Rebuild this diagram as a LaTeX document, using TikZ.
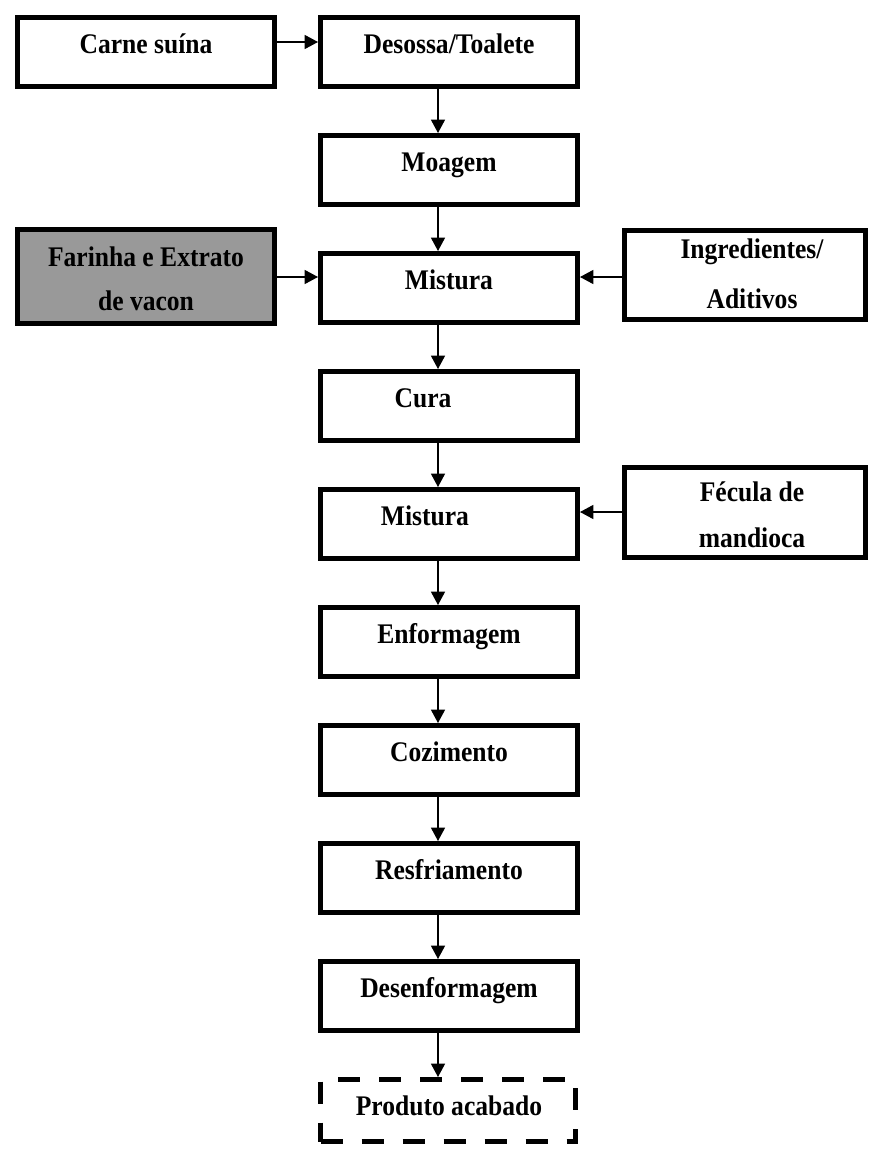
\documentclass[tikz,border=0pt]{standalone}
\usepackage{fontspec}
\setmainfont{Liberation Serif}[FakeStretch=0.9]
\usetikzlibrary{arrows.meta}

\tikzset{every picture/.style={line width=0.75pt}}
\tikzset{
  procbox/.style={draw, line width=3.75pt, minimum width=192.75pt, minimum height=51.75pt, inner sep=0pt},
  sidebox/.style={draw, line width=3.75pt, minimum width=180.75pt, inner sep=0pt},
  lbl/.style={font=\fontsize{21.3}{25}\selectfont\bfseries, anchor=base, inner sep=0pt},
  arr/.style={-{Triangle[length=10pt,width=10.5pt]}, line width=1pt}
}

\begin{document}
\begin{tikzpicture}[x=0.75pt,y=0.75pt,yscale=-1,xscale=1]
\useasboundingbox (0,0) rectangle (870,1149);

\node [procbox] (carne) at (146,52) {};
\node [procbox] (desossa) at (449,52) {};
\node [procbox] (moagem) at (449,170) {};
\node [procbox, fill=black!40, minimum height=70.5pt] (farinha) at (146,276.5) {};
\node [procbox] (mistura) at (449,288) {};
\node [sidebox, minimum height=66.75pt] (ingred) at (745,275) {};
\node [procbox] (cura) at (449,406) {};
\node [procbox] (misturab) at (449,524) {};
\node [sidebox, minimum height=67.5pt] (fecula) at (745,512.5) {};
\node [procbox] (enformagem) at (449,642) {};
\node [procbox] (cozimento) at (449,760) {};
\node [procbox] (resfriamento) at (449,878) {};
\node [procbox] (desenformagem) at (449,996) {};
\node [procbox, dash pattern=on 16.5pt off 14.25pt, minimum width=191.25pt, minimum height=46.5pt] (produto) at (448,1110.5) {};

\coordinate (colx) at (438,0);
\coordinate (row1) at (0,42);
\coordinate (row3) at (0,277);
\coordinate (row5) at (0,512);

\draw [arr] (carne.east |- row1) -- (desossa.west |- row1);
\draw [arr] (desossa.south -| colx) -- (moagem.north -| colx);
\draw [arr] (moagem.south -| colx) -- (mistura.north -| colx);
\draw [arr] (farinha.east |- row3) -- (mistura.west |- row3);
\draw [arr] (ingred.west |- row3) -- (mistura.east |- row3);
\draw [arr] (mistura.south -| colx) -- (cura.north -| colx);
\draw [arr] (cura.south -| colx) -- (misturab.north -| colx);
\draw [arr] (fecula.west |- row5) -- (misturab.east |- row5);
\draw [arr] (misturab.south -| colx) -- (enformagem.north -| colx);
\draw [arr] (enformagem.south -| colx) -- (cozimento.north -| colx);
\draw [arr] (cozimento.south -| colx) -- (resfriamento.north -| colx);
\draw [arr] (resfriamento.south -| colx) -- (desenformagem.north -| colx);
\draw [arr] (desenformagem.south -| colx) -- (produto.north -| colx);

\node [lbl] (tcarne) at (146,54) {Carne suína};
\node [lbl] (tdesossa) at (449,54) {Desossa/Toalete};
\node [lbl] (tmoagem) at (449,171) {Moagem};
\node [lbl] (tfarinha) at (146,266) {Farinha e Extrato};
\node [lbl] (tvacon) at (146,310) {de vacon};
\node [lbl] (tmistura) at (449,289) {Mistura};
\node [lbl] (tingred) at (752,258) {Ingredientes/};
\node [lbl] (taditivos) at (752,308) {Aditivos};
\node [lbl] (tcura) at (423,407) {Cura};
\node [lbl] (tmisturab) at (425,525) {Mistura};
\node [lbl] (tfecula) at (752,501) {Fécula de};
\node [lbl] (tmandioca) at (752,547) {mandioca};
\node [lbl] (tenformagem) at (449,643) {Enformagem};
\node [lbl] (tcozimento) at (449,761) {Cozimento};
\node [lbl] (tresfriamento) at (449,879) {Resfriamento};
\node [lbl] (tdesenformagem) at (449,997) {Desenformagem};
\node [lbl] (tproduto) at (449,1115) {Produto acabado};

\end{tikzpicture}
\end{document}
